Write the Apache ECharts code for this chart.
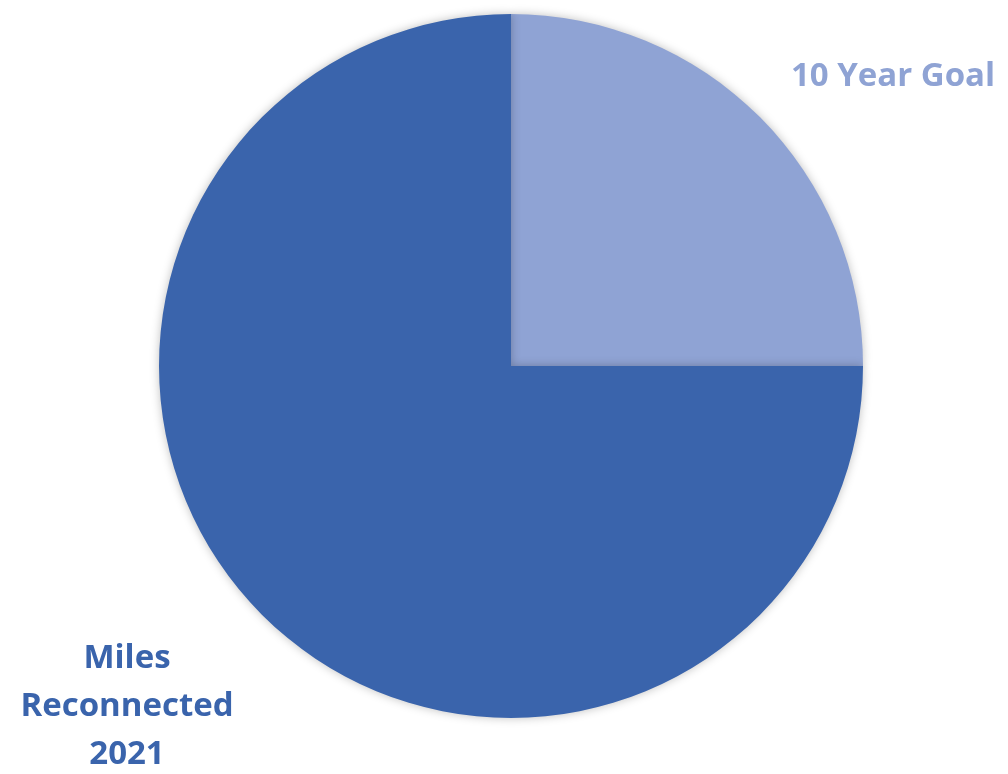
<!DOCTYPE html>
<html><head><meta charset="utf-8">
<script src="https://cdn.jsdelivr.net/npm/echarts@6/dist/echarts.min.js"></script>
<style>html,body{margin:0;padding:0;background:#fff}#c{width:1008px;height:774px}</style>
</head><body><div id="c"></div>
<script>
const categories = ['10 Year Goal', 'Miles\nReconnected\n2021'];
const values = [25, 75];
const colors = ['#8FA3D4', '#3A64AC'];
const labelPos = [[893, 77], [127, 707]];

const chart = echarts.init(document.getElementById('c'));
chart.setOption({
  animation: false,
  series: [{
    type: 'pie',
    center: [511, 366],
    radius: 352,
    startAngle: 90,
    clockwise: true,
    data: categories.map((n, i) => ({
      name: n, value: values[i],
      itemStyle: { color: colors[i] },
      label: { color: colors[i] }
    })),
    itemStyle: { shadowBlur: 10, shadowColor: 'rgba(0,0,0,0.25)', borderWidth: 0 },
    label: {
      show: true, position: 'outside', formatter: '{b}', overflow: 'none',
      fontFamily: 'Open Sans', fontWeight: 'bold', fontSize: 33, lineHeight: 48, align: 'center'
    },
    labelLine: { show: false },
    labelLayout: function (p) {
      return { x: labelPos[p.dataIndex][0], y: labelPos[p.dataIndex][1], align: 'center', verticalAlign: 'middle' };
    }
  }]
});
</script></body></html>
